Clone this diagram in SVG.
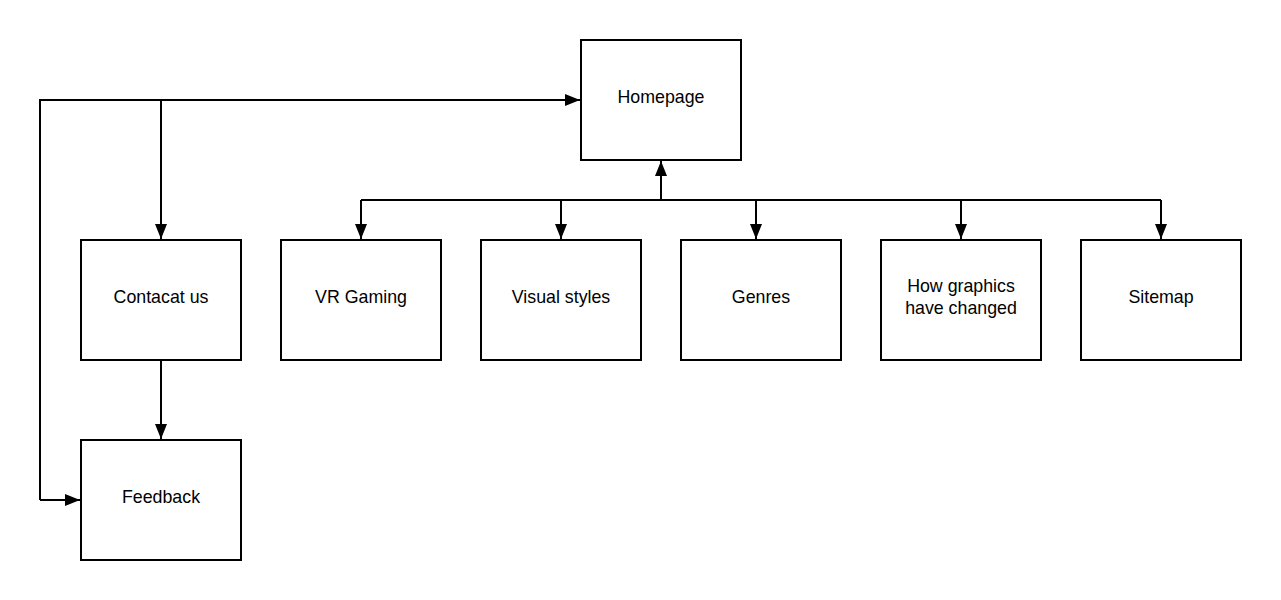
<svg xmlns="http://www.w3.org/2000/svg" width="1281" height="600" viewBox="0 0 1281 600">
<style>
.box{fill:#fff;stroke:#000;stroke-width:2}
.lbl{font-family:"Liberation Sans",Arial,sans-serif;font-size:17.8px;fill:#000;text-anchor:middle}
.ln{fill:none;stroke:#000;stroke-width:2}
</style>
<defs>
<marker id="ah" viewBox="0 0 15 12" refX="15" refY="6" markerWidth="15" markerHeight="12" markerUnits="userSpaceOnUse" orient="auto">
<path d="M0,0 L15,6 L0,12 Z" fill="#000"/>
</marker>
</defs>
<rect width="1281" height="600" fill="#fff"/>
<g id="connectors">
<path class="ln" d="M661,200 L661,161" marker-end="url(#ah)"/>
<path class="ln" d="M361,200 L1161,200"/>
<path class="ln" d="M361,200 L361,239" marker-end="url(#ah)"/>
<path class="ln" d="M561,200 L561,239" marker-end="url(#ah)"/>
<path class="ln" d="M756,200 L756,239" marker-end="url(#ah)"/>
<path class="ln" d="M961,200 L961,239" marker-end="url(#ah)"/>
<path class="ln" d="M1161,200 L1161,239" marker-end="url(#ah)"/>
<path class="ln" d="M40,500 L40,100 L580,100" marker-end="url(#ah)"/>
<path class="ln" d="M40,500 L80,500" marker-end="url(#ah)"/>
<path class="ln" d="M161,100 L161,239" marker-end="url(#ah)"/>
<path class="ln" d="M161,360 L161,439" marker-end="url(#ah)"/>
</g>
<g id="homepage"><rect class="box" x="581" y="40" width="160" height="120"/><text class="lbl" x="661" y="103">Homepage</text></g>
<g id="contact"><rect class="box" x="81" y="240" width="160" height="120"/><text class="lbl" x="161" y="303">Contacat us</text></g>
<g id="feedback"><rect class="box" x="81" y="440" width="160" height="120"/><text class="lbl" x="161" y="503">Feedback</text></g>
<g id="vr"><rect class="box" x="281" y="240" width="160" height="120"/><text class="lbl" x="361" y="303">VR Gaming</text></g>
<g id="visual"><rect class="box" x="481" y="240" width="160" height="120"/><text class="lbl" x="561" y="303">Visual styles</text></g>
<g id="genres"><rect class="box" x="681" y="240" width="160" height="120"/><text class="lbl" x="761" y="303">Genres</text></g>
<g id="graphics"><rect class="box" x="881" y="240" width="160" height="120"/><text class="lbl" x="961" y="292">How graphics</text><text class="lbl" x="961" y="314">have changed</text></g>
<g id="sitemap"><rect class="box" x="1081" y="240" width="160" height="120"/><text class="lbl" x="1161" y="303">Sitemap</text></g>
</svg>
